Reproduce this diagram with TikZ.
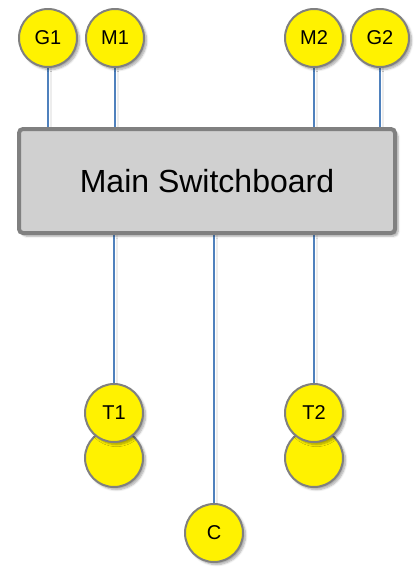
\documentclass[tikz,border=0pt]{standalone}
\usepackage{fontspec}
\setmainfont{Liberation Sans}
\usetikzlibrary{shadows.blur}
\pgfdeclarelayer{background}
\pgfsetlayers{background,main}
\definecolor{wire}{HTML}{4F81BD}
\definecolor{rim}{HTML}{808080}
\definecolor{boardfill}{HTML}{D0D0D0}
\tikzset{
  bus/.style={circle, draw=rim, line width=2pt, fill=yellow, minimum size=58pt, inner sep=0pt,
    font=\fontsize{20}{20}\selectfont, blur shadow={shadow xshift=2.5pt, shadow yshift=-2.5pt, shadow opacity=35, shadow blur steps=6}},
  board/.style={rectangle, rounded corners=4pt, draw=rim, line width=4pt, fill=boardfill,
    minimum width=376pt, minimum height=104pt, inner sep=0pt,
    font=\fontsize{32}{32}\selectfont, blur shadow={shadow xshift=3pt, shadow yshift=-3pt, shadow opacity=35, shadow blur steps=6}},
  wireline/.style={draw=wire, line width=1.8pt,
    preaction={draw=black!7, line width=2.5pt, transform canvas={xshift=3pt}}}
}
\begin{document}
\begin{tikzpicture}[x=1pt,y=-1pt]
\useasboundingbox (0,0) rectangle (420,568);
\node[board] (msb) at (207,181) {Main Switchboard};
\node[bus] (G1) at (48,38) {G1};
\node[bus] (M1) at (115,38) {M1};
\node[bus] (M2) at (314,38) {M2};
\node[bus] (G2) at (380,38) {G2};
\node[bus] (T1b) at (114,458) {};
\node[bus] (T1) at (114,413) {T1};
\node[bus] (T2b) at (314,458) {};
\node[bus] (T2) at (314,413) {T2};
\node[bus] (C) at (214,533) {C};
\begin{pgfonlayer}{background}
\foreach \n in {G1,M1,M2,G2}{
  \draw[wireline] (\n.center) -- (\n.center |- msb.north);
}
\foreach \n in {T1,T2,C}{
  \draw[wireline] (\n.center |- msb.south) -- (\n.center);
}
\end{pgfonlayer}
\end{tikzpicture}
\end{document}
